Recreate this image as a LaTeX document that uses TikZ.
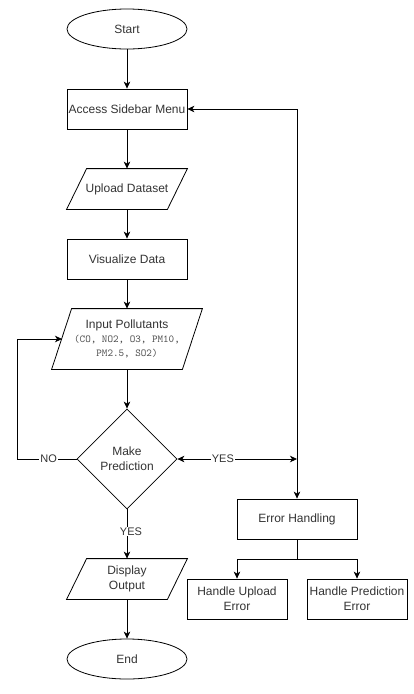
\documentclass[tikz,border=0pt]{standalone}
\usepackage{fontspec}
\setmainfont{Liberation Sans}
\usetikzlibrary{arrows.meta,shapes.geometric,calc}

\begin{document}
\begin{tikzpicture}[x=1pt,y=-1pt,
  font=\fontsize{12}{15}\selectfont,
  base/.style={text=black!80, align=center, inner sep=1pt, line width=0.8pt},
  terminal/.style={base, draw, ellipse, minimum width=120, minimum height=40},
  process/.style={base, draw, rectangle, minimum height=40},
  iobox/.style={base, rectangle, minimum height=40},
  flow/.style={line width=0.8pt, -{Stealth[length=7pt,width=6.5pt,inset=2pt]}},
  twoway/.style={line width=0.8pt, {Stealth[length=7pt,width=6.5pt,inset=2pt]}-{Stealth[length=7pt,width=6.5pt,inset=2pt]}},
  lbl/.style={fill=white, text=black!80, inner sep=1pt, font=\fontsize{11}{13}\selectfont},
]
\useasboundingbox (0,0) rectangle (413,694);

% main column
\node[terminal] (start) at (127,29) {Start};
\node[process, minimum width=120] (access) at (127,109) {Access Sidebar Menu};
\node[iobox, minimum width=120] (upload) at (127,189) {Upload Dataset};
\node[process, minimum width=120] (vis) at (127,259) {Visualize Data};
\node[iobox, minimum width=150, minimum height=60] (inp) at (127,339)
  {Input Pollutants\\[-1pt]{\ttfamily\fontsize{10.6}{15}\selectfont\color{black!70}(CO, NO2, O3, PM10,}\\[-1pt]{\ttfamily\fontsize{10.6}{15}\selectfont\color{black!70}PM2.5, SO2)}};
\node[base, draw, diamond, minimum width=100, minimum height=100, inner sep=0pt, aspect=1] (dec) at (127,459) {Make\\Prediction};
\node[iobox, minimum width=120] (disp) at (127,579) {Display\\Output};
\node[terminal] (end) at (127,659) {End};

% error branch
\node[process, minimum width=120] (err) at (297,519) {Error Handling};
\node[process, minimum width=100] (hu) at (237,599) {Handle Upload\\Error};
\node[process, minimum width=100] (hp) at (357,599) {Handle Prediction\\Error};

% parallelogram outlines for the input/output steps
\foreach \n in {upload,disp,inp}{
  \draw[line width=0.8pt] ($(\n.north west)+(20,0)$) -- (\n.north east)
    -- ($(\n.south east)-(20,0)$) -- (\n.south west) -- cycle;
}

% connector end points
\coordinate (inpL) at (62,339);
\coordinate (loopX) at (17,459);
\coordinate (yesR) at (297,459);
\coordinate (split) at (297,559);

% connectors
\draw[flow] (start) -- (access);
\draw[flow] (access) -- (upload);
\draw[flow] (upload) -- (vis);
\draw[flow] (vis) -- (inp);
\draw[flow] (inp) -- (dec);
\draw[flow] (dec.west) -- node[lbl, pos=0.47] {NO} (loopX) |- (inpL);
\draw[twoway] (dec.east) -- node[lbl, pos=0.38] {YES} (yesR);
\draw[twoway] (access.east) -| (err.north);
\draw[flow] (dec.south) -- node[lbl, pos=0.45, xshift=4pt] {YES} (disp.north);
\draw[flow] (disp) -- (end);
\draw[line width=0.8pt] (err.south) -- (split);
\draw[flow] (split) -| (hu.north);
\draw[flow] (split) -| (hp.north);
\end{tikzpicture}
\end{document}
